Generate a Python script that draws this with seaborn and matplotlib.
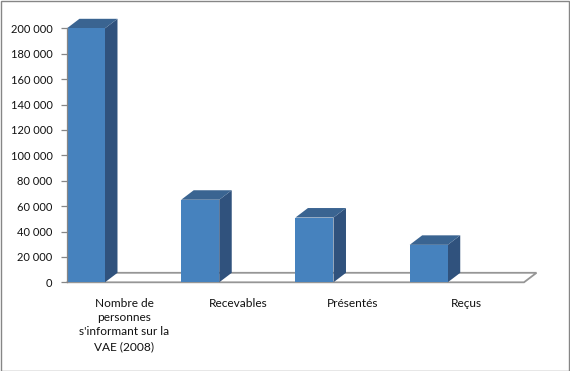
import matplotlib
matplotlib.use("Agg")
import matplotlib.pyplot as plt
import seaborn as sns
import pandas as pd
from matplotlib.patches import Polygon, Rectangle

categories = ["Nombre de\npersonnes\ns'informant sur la\nVAE (2008)",
              "Recevables", "Présentés", "Reçus"]
values = [200000, 65000, 51000, 29500]
yticks = [0, 20000, 40000, 60000, 80000, 100000, 120000, 140000, 160000, 180000, 200000]
ytick_labels = ["0", "20 000", "40 000", "60 000", "80 000", "100 000",
                "120 000", "140 000", "160 000", "180 000", "200 000"]

FRONT = "#4682BE"
TOP = "#3A6491"
SIDE = "#30527D"
GRAY = "#969696"

sns.set_theme(style="white")
plt.rcParams["font.family"] = ["Lato", "DejaVu Sans"]

W, H = 570, 371
fig = plt.figure(figsize=(W / 100, H / 100), dpi=100)
ax = fig.add_axes([67 / W, (H - 282.3) / H, 457 / W, 254 / H])

df = pd.DataFrame({"cat": categories, "val": values})
sns.barplot(data=df, x="cat", y="val", ax=ax, color=FRONT, saturation=1,
            width=0.333, zorder=4, linewidth=0)

ax.set_xlim(-0.5, 3.5)
ax.set_ylim(0, 200000)

# depth in pixels -> data units
dx_px, dy_px = 12.5, 9.5
x_per_px = 4.0 / 457
y_per_px = 200000 / 254
dx, dy = dx_px * x_per_px, dy_px * y_per_px

# shift front faces to the left part of each category
for p in ax.patches:
    p.set_x(p.get_x() - 0.334)

# floor
floor = Polygon([(-0.5, 0), (3.5, 0), (3.5 + dx, dy), (-0.5 + dx, dy)],
                closed=True, facecolor="white", edgecolor=GRAY, linewidth=1.3,
                zorder=2, clip_on=False)
ax.add_patch(floor)

for p in list(ax.patches):
    if not isinstance(p, Rectangle):
        continue
    x0 = p.get_x()
    x1 = x0 + p.get_width()
    h = p.get_height()
    side = Polygon([(x1, 0), (x1 + dx, dy), (x1 + dx, h + dy), (x1, h)],
                   closed=True, facecolor=SIDE, edgecolor="none", zorder=3, clip_on=False)
    top = Polygon([(x0, h), (x1, h), (x1 + dx, h + dy), (x0 + dx, h + dy)],
                  closed=True, facecolor=TOP, edgecolor="none", zorder=3, clip_on=False)
    ax.add_patch(side)
    ax.add_patch(top)
    p.set_clip_on(False)

ax.set_yticks(yticks)
ax.set_yticklabels(ytick_labels)
ax.set_xlabel("")
ax.set_ylabel("")
ax.tick_params(axis="y", which="both", length=4.5, width=0.9, color="#868686",
               pad=6, labelsize=8, labelcolor="#111111", left=True)
ax.tick_params(axis="x", length=0, pad=11, labelsize=8.6, labelcolor="#111111")
for lbl in ax.get_xticklabels():
    lbl.set_linespacing(1.38)
    lbl.set_verticalalignment("top")

for s in ["top", "right", "bottom"]:
    ax.spines[s].set_visible(False)
ax.spines["left"].set_color("#868686")
ax.spines["left"].set_linewidth(0.9)
ax.spines["left"].set_zorder(5)
ax.set_facecolor("white")

# outer border
fig.patches.append(Rectangle((0.5 / W, 0.5 / H), (W - 1.5) / W, (H - 1.5) / H,
                             transform=fig.transFigure, fill=False,
                             edgecolor="#868686", linewidth=1.0))

fig.savefig("out.png", dpi=100)
